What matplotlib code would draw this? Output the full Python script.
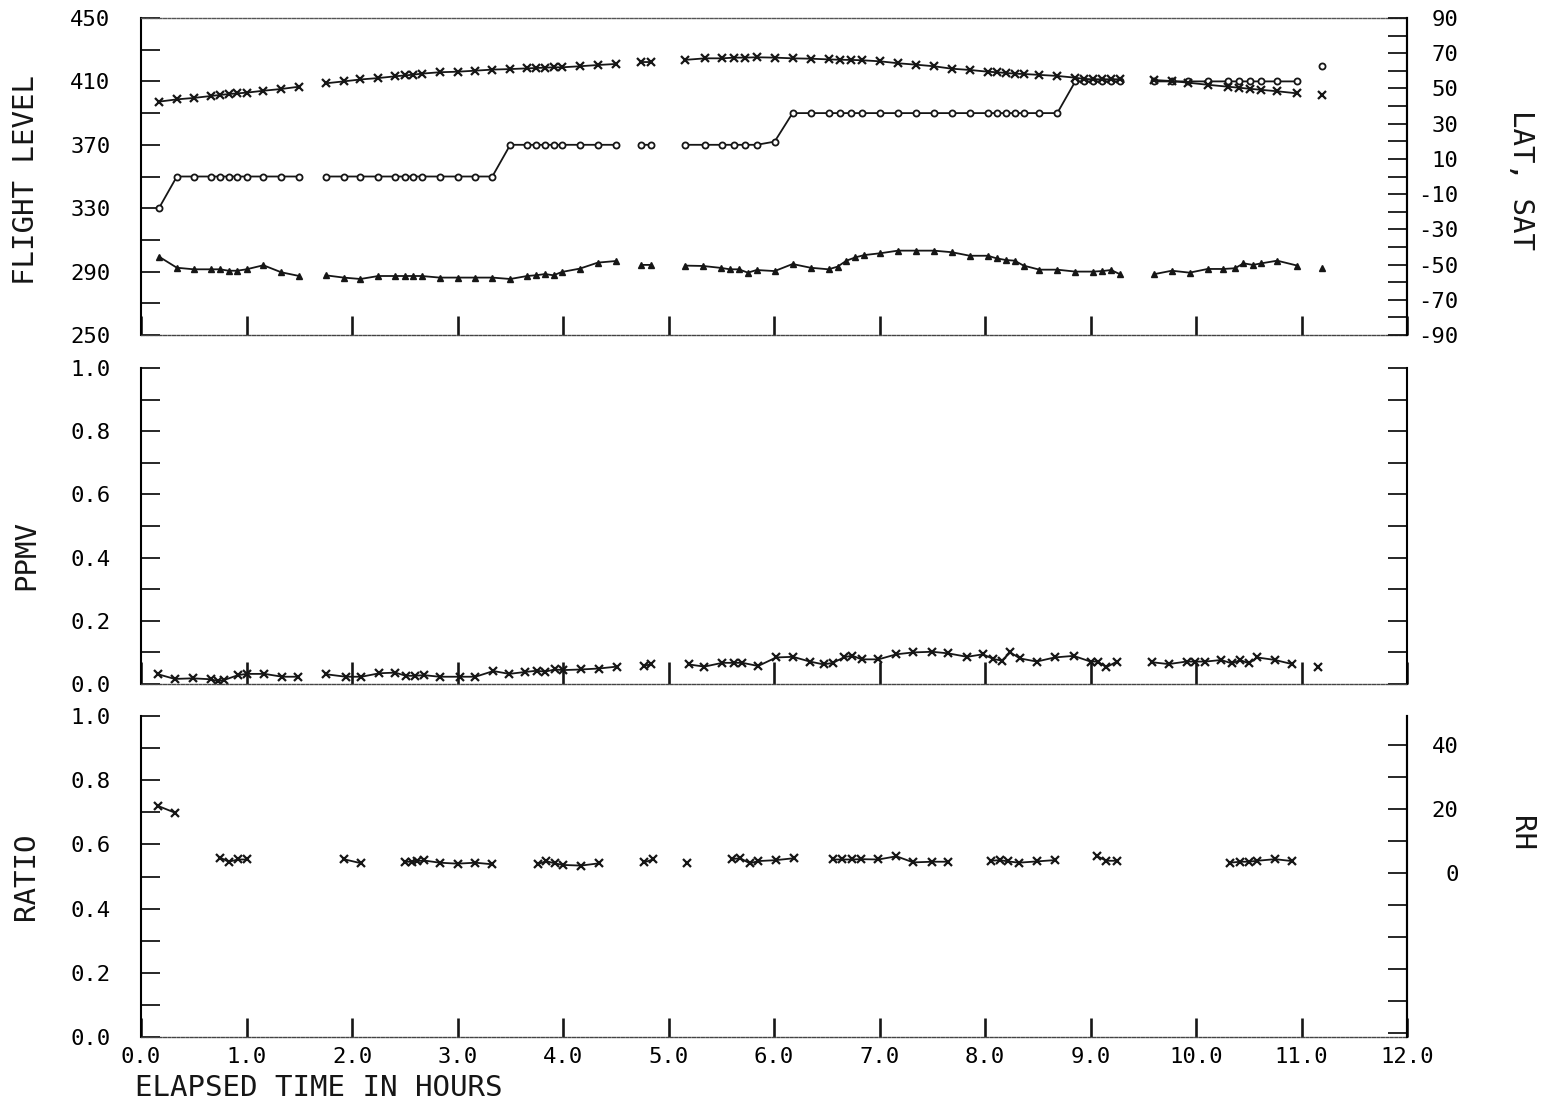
import matplotlib.pyplot as plt
import numpy as np

plt.rcParams['font.family'] = ['DejaVu Sans Mono']

nan = np.nan
ink = '#161616'

# ---- top panel: flight level (left), latitude & static air temp (right) ----
t_top = [0.17, 0.34, 0.50, 0.66, 0.75, 0.83, 0.91, 1.00, 1.16, 1.33, 1.50, nan,
         1.75, 1.92, 2.08, 2.25, 2.41, 2.50, 2.58, 2.66, 2.83, 3.00, 3.17, 3.33,
         3.50, 3.66, 3.74, 3.83, 3.91, 3.99, 4.16, 4.33, 4.50, nan,
         4.74, 4.83, nan,
         5.155, 5.347, 5.508, 5.623, 5.729, 5.836, 6.006, 6.176, 6.346, 6.517,
         6.623, 6.729, 6.835, 7.006, 7.175, 7.346, 7.516, 7.686, 7.856, 8.027,
         8.111, 8.196, 8.281, 8.366, 8.516, 8.685, 8.856, 8.94, 9.025, 9.111,
         9.195, 9.28, nan,
         9.60, 9.77, 9.92, 10.11, 10.30, 10.41, 10.51, 10.62, 10.77, 10.96, nan,
         11.19]

flight_level = [330, 350, 350, 350, 350, 350, 350, 350, 350, 350, 350, nan,
                350, 350, 350, 350, 350, 350, 350, 350, 350, 350, 350, 350,
                370, 370, 370, 370, 370, 370, 370, 370, 370, nan,
                370, 370, nan,
                370, 370, 370, 370, 370, 370, 372, 390, 390, 390,
                390, 390, 390, 390, 390, 390, 390, 390, 390, 390,
                390, 390, 390, 390, 390, 390, 410, 410, 410, 410,
                410, 410, nan,
                410, 410, 410, 410, 410, 410, 410, 410, 410, 410, nan,
                420]

latitude = [42.5, 43.8, 44.6, 45.7, 46.3, 46.8, 47.2, 47.6, 48.7, 49.7, 51.0, nan,
            52.9, 54.0, 55.1, 55.9, 56.9, 57.4, 57.8, 58.4, 59.2, 59.5, 60.1, 60.7,
            61.0, 61.4, 61.6, 61.8, 62.0, 62.0, 62.6, 63.3, 63.9, nan,
            65.0, 65.0, nan,
            66.2, 67.1, 67.1, 67.5, 67.5, 67.7, 67.5, 67.1, 66.9, 66.5,
            66.3, 66.2, 66.0, 65.4, 64.3, 63.5, 62.6, 61.2, 60.5, 59.5,
            59.2, 58.8, 58.4, 58.2, 57.7, 57.1, 56.1, 55.4, 55.2, 55.2,
            55.2, 55.2, nan,
            54.8, 54.2, 53.3, 52.1, 51.0, 50.4, 49.8, 49.2, 48.4, 47.2, nan,
            46.3]

t_sat = [0.17, 0.34, 0.50, 0.66, 0.75, 0.83, 0.91, 1.00, 1.16, 1.33, 1.50, nan,
         1.75, 1.92, 2.08, 2.25, 2.41, 2.50, 2.58, 2.66, 2.83, 3.00, 3.17, 3.33,
         3.50, 3.66, 3.74, 3.83, 3.91, 3.99, 4.16, 4.33, 4.50, nan,
         4.74, 4.83, nan,
         5.155, 5.326, 5.497, 5.582, 5.667, 5.752, 5.836, 6.006, 6.176, 6.346,
         6.517, 6.602, 6.687, 6.772, 6.857, 7.006, 7.175, 7.346, 7.516, 7.686,
         7.856, 8.027, 8.111, 8.196, 8.281, 8.366, 8.516, 8.685, 8.856, 9.025,
         9.111, 9.195, 9.28, nan,
         9.60, 9.77, 9.94, 10.11, 10.26, 10.37, 10.45, 10.54, 10.62, 10.77, 10.96, nan,
         11.19]

sat = [-45.5, -51.8, -52.7, -52.7, -52.7, -53.5, -53.5, -52.7, -50.4, -54.4, -56.5, nan,
       -56.1, -57.4, -58.2, -56.5, -56.5, -56.5, -56.5, -56.5, -57.4, -57.4, -57.4, -57.4,
       -58.2, -56.5, -56.1, -55.4, -56.1, -54.2, -52.3, -48.9, -48.0, nan,
       -50.2, -50.2, nan,
       -50.6, -50.8, -51.9, -52.7, -52.7, -54.6, -53.1, -53.7, -49.7, -51.8,
       -52.7, -51.2, -47.8, -45.9, -44.6, -43.6, -42.1, -42.1, -42.1, -43.0,
       -45.0, -45.0, -46.5, -47.4, -47.8, -50.6, -52.9, -52.9, -54.0, -54.0,
       -53.7, -53.1, -55.5, nan,
       -55.5, -53.5, -54.6, -52.5, -52.5, -52.1, -49.3, -50.2, -49.3, -47.8, -50.6, nan,
       -51.8]

# ---- middle panel: ppmv ----
t_ppmv = [0.16, 0.32, 0.49, 0.66, 0.73, 0.79, 0.92, 1.00, 1.17, 1.34, 1.49, nan,
          1.75, 1.94, 2.09, 2.26, 2.41, 2.51, 2.60, 2.68, 2.83, 3.02, 3.17, 3.34,
          3.49, 3.64, 3.75, 3.83, 3.92, 4.00, 4.17, 4.34, 4.51, nan,
          4.77, 4.83, nan,
          5.19, 5.34, 5.51, 5.62, 5.70, 5.85, 6.02, 6.18, 6.34, 6.47, 6.56, 6.66,
          6.74, 6.83, 6.99, 7.16, 7.32, 7.50, 7.65, 7.83, 7.98, 8.08, 8.16, 8.24,
          8.33, 8.49, 8.66, 8.84, 9.00, 9.07, 9.15, 9.25, nan,
          9.58, 9.74, 9.91, 9.99, 10.09, 10.24, 10.34, 10.42, 10.50, 10.58, 10.75, 10.91, nan,
          11.16]

ppmv = [0.031, 0.016, 0.018, 0.015, 0.009, 0.013, 0.028, 0.032, 0.032, 0.023, 0.023, nan,
        0.031, 0.023, 0.023, 0.034, 0.036, 0.026, 0.026, 0.028, 0.023, 0.023, 0.023, 0.041,
        0.032, 0.038, 0.042, 0.039, 0.046, 0.044, 0.046, 0.049, 0.055, nan,
        0.058, 0.062, nan,
        0.062, 0.055, 0.067, 0.067, 0.067, 0.057, 0.084, 0.086, 0.071, 0.062, 0.067, 0.084,
        0.090, 0.078, 0.078, 0.094, 0.100, 0.102, 0.097, 0.086, 0.094, 0.079, 0.074, 0.100,
        0.081, 0.071, 0.084, 0.089, 0.071, 0.071, 0.053, 0.071, nan,
        0.069, 0.063, 0.071, 0.071, 0.071, 0.076, 0.065, 0.076, 0.065, 0.084, 0.076, 0.063, nan,
        0.055]

# ---- bottom panel: ratio ----
t_ratio = [0.16, 0.32, nan,
           0.75, 0.83, 0.92, 1.00, nan,
           1.92, 2.09, nan,
           2.50, 2.57, 2.62, 2.68, 2.83, 3.00, 3.17, 3.33, nan,
           3.76, 3.84, 3.92, 4.00, 4.17, 4.34, nan,
           4.77, 4.85, nan,
           5.18, nan,
           5.60, 5.68, 5.77, 5.85, 6.02, 6.19, nan,
           6.56, 6.64, 6.74, 6.82, 6.99, 7.16, 7.32, 7.50, 7.65, nan,
           8.06, 8.14, 8.22, 8.32, 8.49, 8.66, nan,
           9.06, 9.15, 9.25, nan,
           10.32, 10.42, 10.50, 10.58, 10.75, 10.91]

ratio = [0.720, 0.699, nan,
         0.559, 0.546, 0.553, 0.553, nan,
         0.554, 0.541, nan,
         0.546, 0.546, 0.548, 0.550, 0.543, 0.540, 0.543, 0.538, nan,
         0.538, 0.548, 0.541, 0.536, 0.534, 0.541, nan,
         0.544, 0.553, nan,
         0.543, nan,
         0.554, 0.557, 0.541, 0.548, 0.551, 0.557, nan,
         0.553, 0.553, 0.553, 0.554, 0.553, 0.563, 0.544, 0.546, 0.546, nan,
         0.549, 0.551, 0.547, 0.543, 0.547, 0.551, nan,
         0.564, 0.549, 0.549, nan,
         0.543, 0.546, 0.546, 0.549, 0.554, 0.548]

hours = np.arange(0, 13)
hour_labels = ['%.1f' % h for h in hours]

fl_ticks = [250, 290, 330, 370, 410, 450]
lat_ticks = [-90, -70, -50, -30, -10, 10, 30, 50, 70, 90]
frac_ticks = [0.0, 0.2, 0.4, 0.6, 0.8, 1.0]
rh_ticks = [0, 20, 40]

# ---------------------------------------------------------------------------
W_PX, H_PX = 1543, 1109
fig = plt.figure(figsize=(W_PX / 100, H_PX / 100), dpi=100)


def box(top, bottom):
    return [141 / W_PX, 1 - bottom / H_PX, 1266 / W_PX, (bottom - top) / H_PX]


ax1 = fig.add_axes(box(18, 335))
ax2 = fig.add_axes(box(368, 684))
ax3 = fig.add_axes(box(716, 1037))
ax1r = ax1.twinx()
ax3r = ax3.twinx()

line_kw = dict(color=ink, lw=1.3)
ax1.plot(t_top, flight_level, marker='o', ms=4.4, mfc='white', mec=ink, mew=1.3, **line_kw)
ax1r.plot(t_top, latitude, marker='x', ms=5.5, mew=1.6, **line_kw)
ax1r.plot(t_sat, sat, marker='^', ms=4.3, mfc=ink, mec=ink, **line_kw)
ax2.plot(t_ppmv, ppmv, marker='x', ms=5.5, mew=1.6, **line_kw)
ax3.plot(t_ratio, ratio, marker='x', ms=5.5, mew=1.6, **line_kw)

ax1.set_ylim(250, 450)
ax1r.set_ylim(-90, 90)
ax2.set_ylim(0, 1)
ax3.set_ylim(0, 1)
ax3r.set_ylim(-51.1, 48.9)

tick_len = 14
for ax in (ax1, ax2, ax3):
    ax.set_xlim(0, 12)
    ax.set_xticks(hours)
    ax.tick_params(axis='x', direction='in', length=tick_len + (2 if ax is ax2 else 0),
                   width=1.9, color=ink, top=False, labelsize=16, pad=7)
    ax.tick_params(axis='y', which='both', direction='in', length=tick_len, width=1.3,
                   color=ink, labelsize=16, pad=22)
    ax.spines['left'].set_linewidth(1.5)
    ax.spines['right'].set_linewidth(1.5)
    ax.spines['bottom'].set_linestyle((0, (2, 1.2)))
    ax.spines['bottom'].set_linewidth(1.0)
    ax.spines['bottom'].set_color('#444444')

ax1.spines['top'].set_linestyle((0, (2, 1.2)))
ax1.spines['top'].set_linewidth(1.0)
ax1.spines['top'].set_color('#555555')
ax2.spines['top'].set_visible(False)
ax3.spines['top'].set_visible(False)

ax1.set_xticklabels([])
ax2.set_xticklabels([])
ax3.set_xticklabels(hour_labels)

ax1.set_yticks(fl_ticks)
ax1.set_yticks(np.arange(270, 450, 40), minor=True)
ax1.set_yticklabels([str(v) for v in fl_ticks])

for ax in (ax2, ax3):
    ax.set_yticks(frac_ticks)
    ax.set_yticks(np.arange(0.1, 1.0, 0.2), minor=True)
    ax.set_yticklabels(['%.1f' % v for v in frac_ticks])
ax2.tick_params(axis='y', which='both', right=True, labelright=False)

for axr in (ax1r, ax3r):
    for s in ('top', 'bottom', 'left'):
        axr.spines[s].set_visible(False)
    axr.spines['right'].set_linewidth(1.5)
    axr.tick_params(axis='y', which='both', direction='in', length=tick_len, width=1.3,
                    color=ink, labelsize=16, pad=37)

ax1r.set_yticks(lat_ticks)
ax1r.set_yticks(np.arange(-80, 90, 20), minor=True)
ax1r.set_yticklabels([str(v) for v in lat_ticks], ha='right')
ax3r.set_yticks(rh_ticks)
ax3r.set_yticks([-50, -40, -30, -20, -10, 10, 30], minor=True)
ax3r.set_yticklabels([str(v) for v in rh_ticks], ha='right')

# axis titles
lab = dict(fontsize=21, color=ink)
left_x = (26 - 141) / 1266
ax1.set_ylabel('FLIGHT LEVEL', va='center', **lab)
ax1.yaxis.set_label_coords(left_x, 0.49)
ax2.set_ylabel('PPMV', va='center', **lab)
ax2.yaxis.set_label_coords(left_x, (684 - 555) / 316)
ax3.set_ylabel('RATIO', va='center', **lab)
ax3.yaxis.set_label_coords(left_x, (1037 - 876) / 321)
ax1r.set_ylabel('LAT, SAT', rotation=-90, va='center', **lab)
ax1r.yaxis.set_label_coords((1521 - 141) / 1266, (335 - 180) / 317)
ax3r.set_ylabel('RH', rotation=-90, va='center', **lab)
ax3r.yaxis.set_label_coords((1521 - 141) / 1266, (1037 - 834) / 321)
ax3.set_xlabel('ELAPSED TIME IN HOURS', ha='left', va='center', **lab)
ax3.xaxis.set_label_coords((135 - 141) / 1266, (1037 - 1088) / 321)

fig.savefig('out.png', dpi=100)
